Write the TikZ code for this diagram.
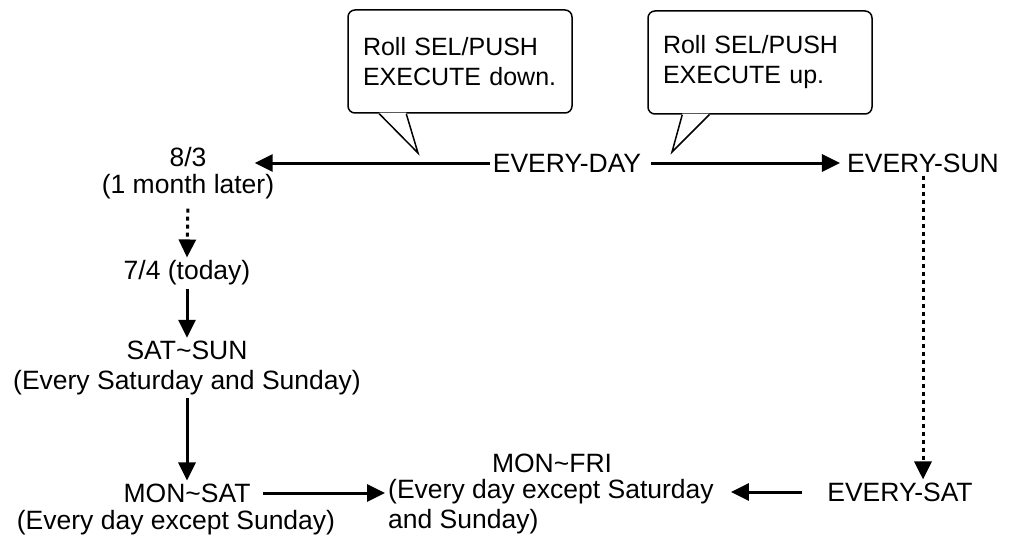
\documentclass[tikz,border=0pt]{standalone}
\usepackage{fontspec}
\setmainfont{Liberation Sans}
\usetikzlibrary{arrows.meta}
\newcommand\tld{\textasciitilde}

\begin{document}
\begin{tikzpicture}[x=1pt,y=-1pt,
  lbl/.style={inner sep=3pt,font=\fontsize{26.5}{30}\selectfont,align=center},
  note/.style={lbl,align=left},
  callbox/.style={draw,line width=1.5pt,rounded corners=7pt,align=left,text width=194pt,
    inner xsep=15pt,minimum height=103pt,font=\fontsize{25}{30}\selectfont},
  arr/.style={line width=3pt,-{Triangle[length=18pt,width=17pt]}},
  dotarr/.style={arr,dash pattern=on 4pt off 4pt}]
\useasboundingbox (0,0) rectangle (1013,535);

% left column
\node[lbl] (d83) at (188,157) {8/3};
\node[lbl] (d83note) at (188,187) {(1 month later)};
\node[lbl] (d74) at (187,273) {7/4 (today)};
\node[lbl] (satsun) at (187,368) {SAT\tld SUN\\(Every Saturday and Sunday)};
\node[lbl] (monsat) at (187,493) {MON\tld SAT};
\node[lbl] (monsatnote) at (176,523) {(Every day except Sunday)};

% top row and right column
\node[lbl] (everyday) at (567,163) {EVERY-DAY};
\node[lbl] (everysun) at (923,163) {EVERY-SUN};
\node[lbl] (everysat) at (900,492) {EVERY-SAT};
\node[lbl] (monfri) at (552,463) {MON\tld FRI};
\node[note,anchor=west] (monfrinote) at (385,507) {(Every day except Saturday\\and Sunday)};

% callouts
\node[callbox] (calldown) at (460,61.5) {Roll SEL/PUSH\\EXECUTE down.};
\node[callbox] (callup) at (760,62.5) {Roll SEL/PUSH\\EXECUTE up.};
\coordinate (tipdown) at (418,153);
\coordinate (tipup) at (672,152);
\fill[white] ([xshift=32pt,yshift=1pt]calldown.south west) -- (tipdown) -- ([xshift=59pt,yshift=1pt]calldown.south west) -- cycle;
\draw[line width=1.5pt] ([xshift=32pt]calldown.south west) -- (tipdown) -- ([xshift=59pt]calldown.south west);
\fill[white] ([xshift=35pt,yshift=1pt]callup.south west) -- (tipup) -- ([xshift=62pt,yshift=1pt]callup.south west) -- cycle;
\draw[line width=1.5pt] ([xshift=35pt]callup.south west) -- (tipup) -- ([xshift=62pt]callup.south west);

% arrows
\draw[arr,shorten >=45pt] (everyday.west) -- (everyday.west -| d83.east);
\draw[arr,shorten <=7pt,shorten >=4pt] (everyday) -- (everysun);
\draw[dotarr,shorten <=6pt] (d83note.south) -- (d74.north);
\draw[arr] (d74) -- (satsun);
\draw[arr] (satsun) -- (monsat);
\draw[dotarr] (everysun.south) -- (everysun.south |- everysat.north);
\draw[arr,shorten <=9pt] (monsat.east) -- (monsat.east -| monfrinote.west);
\draw[arr,shorten <=22pt,shorten >=14pt] (everysat.west) -- (everysat.west -| monfrinote.east);
\end{tikzpicture}
\end{document}
